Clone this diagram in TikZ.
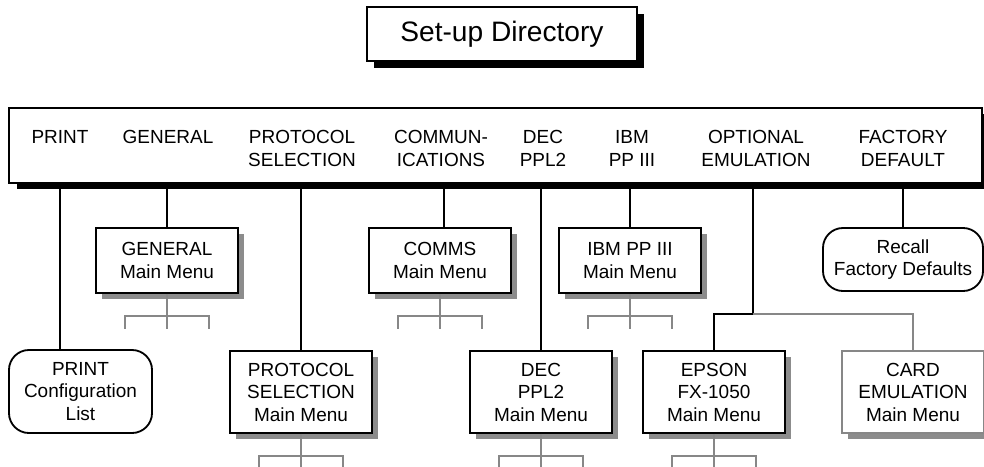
\documentclass[tikz,border=0pt]{standalone}
\usepackage{fontspec}
\setmainfont{Liberation Sans}
\usetikzlibrary{shadows}
\definecolor{dimline}{HTML}{878787}
\definecolor{shade}{HTML}{8C8C8C}

\begin{document}
\begin{tikzpicture}[
  x=0.025cm, y=-0.025cm,
  font=\fontsize{13.5}{16}\selectfont, line width=0.9pt,
  blackshadow/.style={drop shadow={shadow xshift=0.18cm, shadow yshift=-0.17cm, fill=black, opacity=1}},
  titlebox/.style={draw, line width=1.3pt, fill=white, minimum width=6.75cm, minimum height=1.35cm,
    font=\fontsize{20}{24}\selectfont, blackshadow},
  headlbl/.style={anchor=north, inner sep=0pt, align=center},
  menubox/.style={draw, line width=1.3pt, fill=white, align=center, inner sep=0pt,
    minimum width=3.55cm, minimum height=1.625cm,
    drop shadow={shadow xshift=0.16cm, shadow yshift=-0.16cm, fill=shade, opacity=1}},
  tall/.style={minimum height=2.05cm},
  listbox/.style={draw, line width=1.3pt, fill=white, align=center, inner sep=0pt, rounded corners=0.5cm},
  forkline/.style={draw=dimline, line width=0.9pt},
]
\useasboundingbox (0,0) rectangle (984,466);

% Title
\node[titlebox] (title) at (502,34) {Set-up Directory};

% Directory bar
\node[draw, line width=1.3pt, fill=white, minimum width=24.325cm, minimum height=1.875cm,
  drop shadow={shadow xshift=0.2cm, shadow yshift=-0.16cm, fill=black, opacity=1}] (dir) at (495.5,145.5) {};
\node[headlbl] (print) at (60,130) {PRINT};
\node[headlbl] (general) at (168,130) {GENERAL};
\node[headlbl] (protocol) at (302,130) {PROTOCOL\\SELECTION};
\node[headlbl] (comms) at (441,130) {COMMUN-\\ICATIONS};
\node[headlbl] (dec) at (543,130) {DEC\\PPL2};
\node[headlbl] (ibm) at (632,130) {IBM\\PP III};
\node[headlbl] (optemu) at (756,130) {OPTIONAL\\EMULATION};
\node[headlbl] (factory) at (903,130) {FACTORY\\DEFAULT};

% Upper row
\node[menubox] (genmenu) at (167,260.5) {GENERAL\\Main Menu};
\node[menubox] (commsmenu) at (440,260.5) {COMMS\\Main Menu};
\node[menubox] (ibmmenu) at (630,260.5) {IBM PP III\\Main Menu};
\node[listbox, minimum width=4cm, minimum height=1.575cm] (recall) at (903,259.5) {Recall\\Factory Defaults};

% Lower row
\node[listbox, minimum width=3.575cm, minimum height=2.075cm] (prtcfg) at (80.5,391.5) {PRINT\\Configuration\\List};
\node[menubox, tall] (protmenu) at (301,392) {PROTOCOL\\SELECTION\\Main Menu};
\node[menubox, tall] (decmenu) at (541,392) {DEC\\PPL2\\Main Menu};
\node[menubox, tall] (epsonmenu) at (714,392) {EPSON\\FX-1050\\Main Menu};
\node[menubox, tall, draw=dimline] (cardmenu) at (913,392) {CARD\\EMULATION\\Main Menu};

% Connectors
\draw (prtcfg.north -| print) -- (print |- dir.south);
\draw (genmenu.north) -- (genmenu.north |- dir.south);
\draw (protmenu.north) -- (protmenu.north |- dir.south);
\draw (commsmenu.north -| 444,0) -- (444,0 |- dir.south);
\draw (decmenu.north) -- (decmenu.north |- dir.south);
\draw (ibmmenu.north) -- (ibmmenu.north |- dir.south);
\draw (recall.north) -- (recall.north |- dir.south);
\coordinate (branch) at (753,314);
\draw (branch |- dir.south) -- (branch) -| (epsonmenu.north);
\draw[forkline] (branch) -| (cardmenu.north);

% Sub-menu forks
\foreach \m in {genmenu,commsmenu,ibmmenu,protmenu,decmenu,epsonmenu}{
  \draw[forkline] (\m.south) -- ++(0,22) coordinate (\m-fork) -- ++(0,13);
  \draw[forkline] (\m-fork) ++(-42,13) -- ++(0,-13) -- ++(84,0) -- ++(0,13);
}

\end{tikzpicture}
\end{document}
